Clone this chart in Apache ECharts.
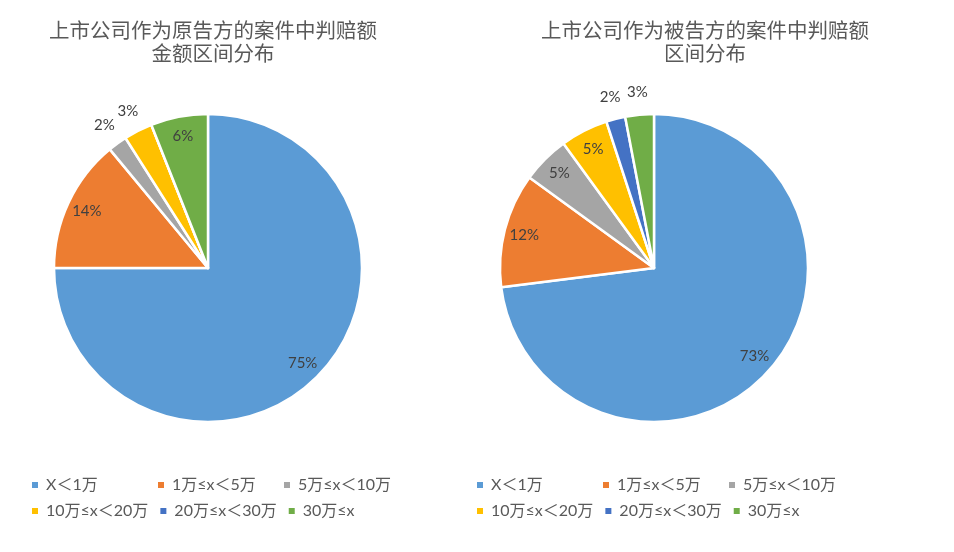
<!DOCTYPE html>
<html>
<head>
<meta charset="utf-8">
<script src="https://cdn.jsdelivr.net/npm/echarts@6/dist/echarts.min.js"></script>
<style>
  html, body { margin: 0; padding: 0; background: #fff; }
  #chart { width: 954px; height: 552px; }
</style>
</head>
<body>
<div id="chart"></div>
<script>
// 赔额区间
const categories = ['X＜1万', '1万≤x＜5万', '5万≤x＜10万', '10万≤x＜20万', '20万≤x＜30万', '30万≤x']
// 原告方 / 被告方 各区间占比 (%)
const plaintiffValues = [75, 14, 2, 3, 0, 6]
const defendantValues = [73, 12, 5, 5, 2, 3]
const titles = [
  '上市公司作为原告方的案件中判赔额\n金额区间分布',
  '上市公司作为被告方的案件中判赔额\n区间分布'
]

const colors = ['#5B9BD5', '#ED7D31', '#A5A5A5', '#FFC000', '#4472C4', '#70AD47']
const fontLatin = 'Lato, "Noto Sans CJK SC", sans-serif'
const R = 154

function pieSeries(values, center) {
  const data = categories.map((name, i) => ({ name: name, value: values[i] }))

  // 标签环：大扇区标签在内，小扇区标签在外
  const labelRing = (inner, outer, test) => ({
    type: 'pie',
    silent: true,
    center: center,
    radius: [inner, outer],
    startAngle: 90,
    avoidLabelOverlap: false,
    itemStyle: { color: 'transparent', borderWidth: 0 },
    emphasis: { disabled: true },
    labelLine: { show: false },
    data: data.map((d) => ({
      name: d.name,
      value: d.value,
      label: {
        show: test(d.value),
        position: 'inside',
        formatter: '{c}%',
        color: '#404040',
        fontSize: 15,
        fontFamily: fontLatin
      }
    }))
  })

  return [
    {
      type: 'pie',
      center: center,
      radius: R,
      startAngle: 90,
      avoidLabelOverlap: false,
      itemStyle: { borderColor: '#fff', borderWidth: 2.5 },
      label: { show: false },
      labelLine: { show: false },
      emphasis: { disabled: true },
      data: data
    },
    labelRing(R * 0.7, R, (v) => v >= 5),
    labelRing(R, R * 1.25, (v) => v > 0 && v < 5)
  ]
}

function legend(left) {
  return {
    left: left,
    top: 472,
    width: 420,
    orient: 'horizontal',
    itemWidth: 12,
    itemHeight: 8,
    itemGap: 10,
    icon: 'path://M0,0H8V8H0Z',
    formatter: '{a|{name}}',
    textStyle: {
      rich: {
        a: {
          width: 100,
          lineHeight: 18,
          color: '#595959',
          fontSize: 16,
          fontFamily: fontLatin
        }
      }
    },
    data: categories
  }
}

const chart = echarts.init(document.getElementById('chart'))
chart.setOption({
  color: colors,
  animation: false,
  title: [
    { text: titles[0], left: 208, top: 14 },
    { text: titles[1], left: 700, top: 14 }
  ].map((t) => Object.assign(t, {
    textAlign: 'center',
    textStyle: {
      color: '#595959',
      fontSize: 20.5,
      fontWeight: 'normal',
      lineHeight: 23,
      fontFamily: '"Noto Sans CJK SC", sans-serif'
    }
  })),
  legend: [legend(25), legend(470)],
  series: [
    ...pieSeries(plaintiffValues, [208, 268]),
    ...pieSeries(defendantValues, [654, 268])
  ]
})
</script>
</body>
</html>
